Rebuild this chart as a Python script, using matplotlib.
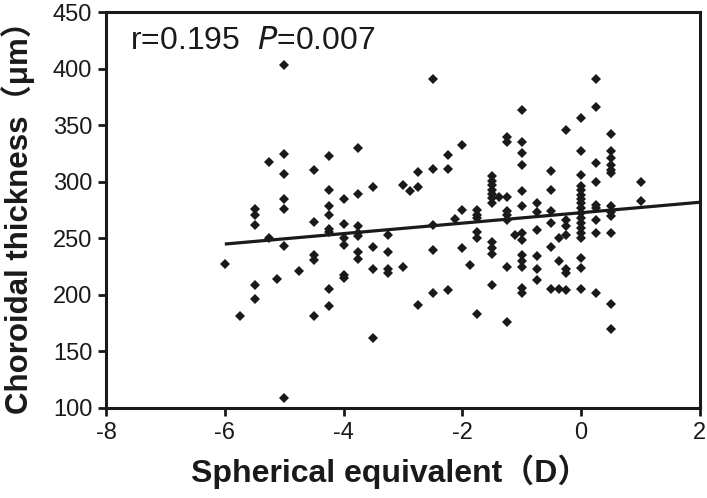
import matplotlib
matplotlib.use('Agg')
import matplotlib.pyplot as plt

plt.rcParams['font.family'] = ['Liberation Sans', 'Noto Sans CJK SC', 'DejaVu Sans']

# spherical equivalent (D) and choroidal thickness (um)
se = ([-6.0] + [-5.75] + [-5.5] * 5 + [-5.25] * 2 + [-5.12] + [-5.0] * 7
      + [-4.75] + [-4.5] * 5 + [-4.25] * 8 + [-4.0] * 6 + [-3.75] * 7
      + [-3.5] * 4 + [-3.25] * 4 + [-3.0] * 2 + [-2.88] + [-2.75] * 3
      + [-2.5] * 5 + [-2.25] * 3 + [-2.12] + [-2.0] * 3 + [-1.88]
      + [-1.75] * 6 + [-1.5] * 11 + [-1.38] + [-1.25] * 8 + [-1.12]
      + [-1.0] * 13 + [-0.75] * 6 + [-0.5] * 6 + [-0.38] * 3 + [-0.25] * 7
      + [0.0] * 18 + [0.25] * 9 + [0.5] * 12 + [1.0] * 2)

thickness = [
    227.6,
    181,
    276, 271, 262, 209, 196,
    318, 250.5,
    214,
    403.5, 325, 307, 285, 276.4, 243.5, 108.7,
    221,
    310.8, 264.3, 235, 230.8, 181,
    322.6, 292.5, 278.5, 270.5, 257.9, 255.5, 205, 190,
    285, 262.5, 250, 244, 218, 215.2,
    330, 289.6, 260.8, 255, 252, 238, 231.4,
    295.8, 242.3, 222.6, 162.2,
    252.6, 238.4, 223.2, 219.6,
    297.3, 224.6,
    292.3,
    308.8, 295.2, 191,
    390.9, 311.4, 261.6, 239.3, 201.3,
    323.4, 311.4, 204.3,
    267.3,
    332.3, 275.2, 241.4,
    226.7,
    274.8, 271, 267.8, 255.8, 250.5, 183,
    305, 300.5, 297, 293.2, 289.7, 285.9, 281.5, 246.5, 241.5, 236.5, 208.4,
    287,
    339.7, 335, 287, 274.3, 270.5, 266.7, 224.6, 176.4,
    253.4,
    363.5, 335, 325.5, 315.2, 291.7, 278.5, 255, 249, 235.3, 230, 224.6, 206.4, 201.3,
    281.4, 273.2, 257.3, 234.5, 222.6, 212.8,
    309.3, 292.5, 274, 263.8, 242.6, 205.5,
    250.5, 230, 205.5,
    345.8, 266, 260.8, 253.4, 222.6, 219.6, 204,
    356.4, 327, 306.4, 296, 292.5, 288.6, 284.9, 281.3, 276.9, 272.5, 268,
    263.6, 259.2, 255, 250.5, 233, 224, 205.5,
    391.4, 366.4, 316.7, 300.2, 280, 276.8, 266.7, 255, 201.3,
    342.3, 327, 321.2, 315.2, 310.8, 307.8, 278.5, 273.2, 269.6, 254.4, 192.3, 169.6,
    299.6, 282.8,
]

# regression line
fit_slope = 4.625
fit_intercept = 272.75
fit_x = [-6, 2]

x_ticks = [-8, -6, -4, -2, 0, 2]
y_ticks = [100, 150, 200, 250, 300, 350, 400, 450]

fig = plt.figure(figsize=(7.07, 4.98), dpi=100)
ax = fig.add_axes([0.15, 0.181, 0.84, 0.794])

ax.plot(se, thickness, linestyle='none', marker='D', markersize=5.5,
        color='#1a1a1a', markeredgewidth=0)
ax.plot(fit_x, [fit_intercept + fit_slope * v for v in fit_x],
        color='#1a1a1a', linewidth=2.3, solid_capstyle='butt')

ax.set_xlim(-8, 2)
ax.set_ylim(100, 450)
ax.set_xticks(x_ticks)
ax.set_yticks(y_ticks)
ax.set_xticklabels([str(v) for v in x_ticks])
ax.tick_params(direction='out', length=6, width=2, labelsize=17, pad=4,
               color='#1a1a1a', labelcolor='#1a1a1a')
for s in ax.spines.values():
    s.set_linewidth(2.2)
    s.set_color('#1a1a1a')

ax.set_xlabel('Spherical equivalent（D）', fontsize=23, fontweight='bold',
              color='#1a1a1a')
ax.xaxis.set_label_coords(0.478, -0.119)
ax.set_ylabel('Choroidal thickness（μm）', fontsize=22.5, fontweight='bold',
              color='#1a1a1a')
ax.yaxis.set_label_coords(-0.12, 0.5)

ax.text(-7.6, 425, 'r=0.195  $\\it{P}$=0.007', fontsize=23, va='center',
        ha='left', color='#1a1a1a')

fig.savefig('out.png', dpi=100)
